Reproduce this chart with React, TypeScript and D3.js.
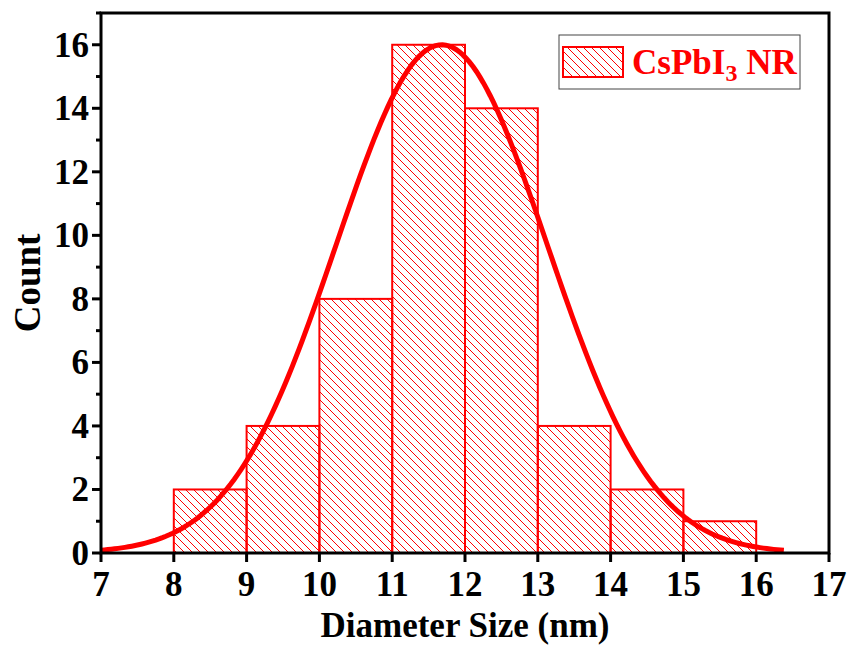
import React from "react";
import * as d3 from "d3";

const binStarts = [8, 9, 10, 11, 12, 13, 14, 15];
const binWidth = 1;
const counts = [2, 4, 8, 16, 14, 4, 2, 1];
const xTicks = [7, 8, 9, 10, 11, 12, 13, 14, 15, 16, 17];
const yTicks = [0, 2, 4, 6, 8, 10, 12, 14, 16];
const yMinor = [1, 3, 5, 7, 9, 11, 13, 15, 17];
// Gaussian fit parameters
const fitMu = 11.68;
const fitSigma = 1.45;
const fitAmp = 16.0;
const fitRange = [7, 16.38];

const W = 851, H = 649;
const M = { left: 101, top: 13, right: 22, bottom: 96 };
const RED = "#ff0000";
const FONT = "'Liberation Serif', 'Times New Roman', serif";

export default function App() {
  const x = d3.scaleLinear().domain([7, 17]).range([M.left, W - M.right]);
  const y = d3.scaleLinear().domain([0, 17]).range([H - M.bottom, M.top]);
  const n = 200;
  const pts: [number, number][] = d3.range(n + 1).map((i) => {
    const xv = fitRange[0] + ((fitRange[1] - fitRange[0]) * i) / n;
    const yv = fitAmp * Math.exp(-((xv - fitMu) ** 2) / (2 * fitSigma ** 2));
    return [xv, yv];
  });
  const line = d3.line<[number, number]>().x((d) => x(d[0])).y((d) => y(d[1]));
  const x0 = x(7), x1 = x(17), y0 = y(0), y1 = y(17);
  return (
    <svg width={W} height={H} style={{ position: "absolute", left: 0, top: 0, background: "#fff" }}>
      <defs>
        <pattern id="hatch" width="8" height="8" patternUnits="userSpaceOnUse">
          <path d="M-2,-2 L10,10 M-2,6 L2,10 M6,-2 L10,2" stroke={RED} strokeWidth={1} />
        </pattern>
      </defs>
      {binStarts.map((b, i) => (
        <rect
          key={i}
          x={x(b)}
          y={y(counts[i])}
          width={x(b + binWidth) - x(b)}
          height={y(0) - y(counts[i])}
          fill="url(#hatch)"
          stroke={RED}
          strokeWidth={2}
        />
      ))}
      <path d={line(pts) || ""} fill="none" stroke={RED} strokeWidth={5} />
      {/* frame */}
      <rect x={x0} y={y1} width={x1 - x0} height={y0 - y1} fill="none" stroke="#000" strokeWidth={3} />
      {/* x ticks */}
      {xTicks.map((t) => (
        <g key={"x" + t}>
          <line x1={x(t)} x2={x(t)} y1={y0} y2={y0 + 9} stroke="#000" strokeWidth={3} />
          <text x={x(t)} y={y0 + 43} textAnchor="middle" fontFamily={FONT} fontWeight="bold" fontSize={35}>
            {t}
          </text>
        </g>
      ))}
      {yTicks.map((t) => (
        <g key={"y" + t}>
          <line x1={x0} x2={x0 - 9} y1={y(t)} y2={y(t)} stroke="#000" strokeWidth={3} />
          <text x={x0 - 12} y={y(t) + 12} textAnchor="end" fontFamily={FONT} fontWeight="bold" fontSize={35}>
            {t}
          </text>
        </g>
      ))}
      {yMinor.map((t) => (
        <line key={"m" + t} x1={x0} x2={x0 - 5} y1={y(t)} y2={y(t)} stroke="#000" strokeWidth={3} />
      ))}
      <text x={(x0 + x1) / 2} y={637} textAnchor="middle" fontFamily={FONT} fontWeight="bold" fontSize={35}>
        Diameter Size (nm)
      </text>
      <text
        transform={`translate(40,${(y0 + y1) / 2}) rotate(-90)`}
        textAnchor="middle"
        fontFamily={FONT}
        fontWeight="bold"
        fontSize={37}
      >
        Count
      </text>
      {/* legend */}
      <rect x={559} y={35} width={241} height={54} fill="#fff" stroke="#444" strokeWidth={1} />
      <rect x={563} y={47} width={60} height={30} fill="url(#hatch)" stroke={RED} strokeWidth={2} />
      <text x={632} y={74} fontFamily={FONT} fontWeight="bold" fontSize={35} fill={RED}>
        CsPbI
        <tspan fontSize={24} dy={7}>3</tspan>
        <tspan dy={-7}> NR</tspan>
      </text>
    </svg>
  );
}
